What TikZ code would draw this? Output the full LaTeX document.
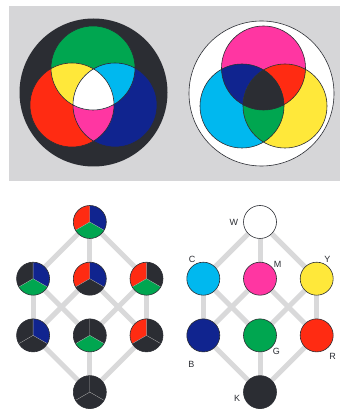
\documentclass[tikz,border=0pt]{standalone}
\usepackage{fontspec}
\setmainfont{Liberation Sans}
\usetikzlibrary{positioning,backgrounds}
\definecolor{ink}{HTML}{2B2D33}
\definecolor{pR}{HTML}{FF2B12}
\definecolor{pG}{HTML}{00A650}
\definecolor{pB}{HTML}{10248F}
\definecolor{pC}{HTML}{00B8EF}
\definecolor{pM}{HTML}{FF36A2}
\definecolor{pY}{HTML}{FFE83A}
\definecolor{panel}{HTML}{D6D6D8}
\definecolor{wireg}{HTML}{D9D9DA}

\begin{document}
\begin{tikzpicture}[
  x=1pt,y=1pt,
  node distance=23.1pt,
  lamp/.style={circle,draw=ink,line width=0.6pt,minimum size=33pt,inner sep=0pt},
  pie/.style n args={3}{lamp,path picture={
    \coordinate (pc) at (path picture bounding box.center);
    \fill[#1] (pc) -- ++(90:20pt) arc[start angle=90,end angle=210,radius=20pt] -- cycle;
    \fill[#2] (pc) -- ++(-30:20pt) arc[start angle=-30,end angle=90,radius=20pt] -- cycle;
    \fill[#3] (pc) -- ++(210:20pt) arc[start angle=210,end angle=330,radius=20pt] -- cycle;
    \draw[gray!70,line width=0.3pt] (pc) -- ++(90:20pt) (pc) -- ++(210:20pt) (pc) -- ++(330:20pt);
  }},
  wire/.style={line width=5pt,draw=wireg},
  rim/.style={draw=ink,line width=0.6pt},
  lbl/.style={font=\fontsize{9}{10}\selectfont,text=ink,inner sep=0pt}
]
\useasboundingbox (0,0) rectangle (340,410);

% additive / subtractive mixing
\fill[panel] (9,229) rectangle (340,404);
\coordinate (vg) at (93,342);
\coordinate (vr) at (72,305);
\coordinate (vb) at (115,305);
\coordinate (sm) at (263.5,342);
\coordinate (sc) at (242,304);
\coordinate (sy) at (285,304);

\fill[ink] (93.5,317.5) circle[radius=74];
\fill[pG] (vg) circle[radius=42];
\fill[pR] (vr) circle[radius=42];
\fill[pB] (vb) circle[radius=42];
\begin{scope}\clip (vr) circle[radius=42]; \fill[pY] (vg) circle[radius=42]; \fill[pM] (vb) circle[radius=42]; \end{scope}
\begin{scope}\clip (vg) circle[radius=42]; \fill[pC] (vb) circle[radius=42]; \end{scope}
\begin{scope}\clip (vr) circle[radius=42]; \clip (vg) circle[radius=42]; \fill[white] (vb) circle[radius=42]; \end{scope}
\draw[rim] (vg) circle[radius=42] (vr) circle[radius=42] (vb) circle[radius=42];

\filldraw[fill=white,rim] (261.5,316.5) circle[radius=72.5];
\fill[pM] (sm) circle[radius=42];
\fill[pC] (sc) circle[radius=42];
\fill[pY] (sy) circle[radius=42];
\begin{scope}\clip (sm) circle[radius=42]; \fill[pB] (sc) circle[radius=42]; \fill[pR] (sy) circle[radius=42]; \end{scope}
\begin{scope}\clip (sc) circle[radius=42]; \fill[pG] (sy) circle[radius=42]; \end{scope}
\begin{scope}\clip (sm) circle[radius=42]; \clip (sc) circle[radius=42]; \fill[ink] (sy) circle[radius=42]; \end{scope}
\draw[rim] (sm) circle[radius=42] (sc) circle[radius=42] (sy) circle[radius=42];

% lattice of lamps
\node[pie={pR}{pB}{pG}] (lw) at (89.8,188) {};
\node[pie={pR}{pB}{ink}] (lm) [below=of lw] {};
\node[pie={ink}{pB}{pG}] (lc) [left=of lm] {};
\node[pie={pR}{ink}{pG}] (ly) [right=of lm] {};
\node[pie={ink}{pB}{ink}] (lb) [below=of lc] {};
\node[pie={ink}{ink}{pG}] (lg) [below=of lm] {};
\node[pie={pR}{ink}{ink}] (lr) [below=of ly] {};
\node[pie={ink}{ink}{ink}] (lk) [below=of lg] {};

% lattice of colours
\node[lamp,fill=white,label={[lbl,label distance=5pt]180:W}] (w) at (260,188) {};
\node[lamp,fill=pM,label={[lbl,label distance=1pt]40:M}] (m) [below=of w] {};
\node[lamp,fill=pC,label={[lbl,label distance=1pt]116:C}] (c) [left=of m] {};
\node[lamp,fill=pY,label={[lbl,label distance=1pt]65:Y}] (y) [right=of m] {};
\node[lamp,fill=pB,label={[lbl,label distance=10pt]251:B}] (b) [below=of c] {};
\node[lamp,fill=pG,label={[lbl,label distance=1pt]-45:G}] (g) [below=of m] {};
\node[lamp,fill=pR,label={[lbl,label distance=5pt]-55:R}] (r) [below=of y] {};
\node[lamp,fill=ink,label={[lbl,label distance=3pt]188:K}] (k) [below=of g] {};

\begin{scope}[on background layer]
\foreach \p in {l,} {
  \foreach \a/\b in {w/c,w/m,w/y,c/b,c/g,m/b,m/r,y/g,y/r,b/k,g/k,r/k}
    \draw[wire] (\p\a) -- (\p\b);
}
\end{scope}
\end{tikzpicture}
\end{document}
